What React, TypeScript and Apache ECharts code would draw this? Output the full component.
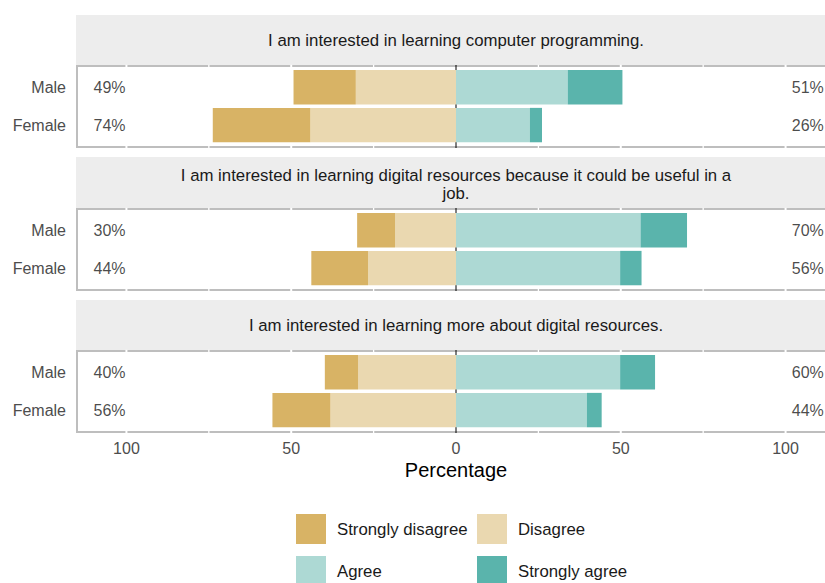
import React, { useEffect, useRef } from 'react';
import * as echarts from 'echarts';

// ---------- data ----------
const categories = ['Male', 'Female'];
const facetTitles = [
  'I am interested in learning computer programming.',
  'I am interested in learning digital resources because it could be useful in a\njob.',
  'I am interested in learning more about digital resources.',
];
const levels = ['Strongly disagree', 'Disagree', 'Agree', 'Strongly agree'];
// [facet][Male, Female]
const stronglyDisagree = [[18.9, 29.6], [11.5, 17.2], [10.1, 17.6]];
const disagree = [[30.4, 44.2], [18.5, 26.7], [29.7, 38.1]];
const agree = [[33.9, 22.4], [56.0, 49.8], [49.8, 39.7]];
const stronglyAgree = [[16.6, 3.7], [14.1, 6.5], [10.6, 4.5]];
const lowLabels = [[49, 74], [30, 44], [40, 56]];
const highLabels = [[51, 26], [70, 56], [60, 44]];
const xTicks = [-100, -50, 0, 50, 100];
const gridLineValues = [-100, -75, -50, -25, 25, 50, 75, 100];
const xAxisTitle = 'Percentage';

// ---------- style / layout ----------
const levelColors: Record<string, string> = {
  'Strongly disagree': '#D8B365',
  Disagree: '#EAD8B0',
  Agree: '#ADD9D4',
  'Strongly agree': '#5AB4AC',
};
const FONT = 'Liberation Sans, Arial, sans-serif';
const X_MIN = -115;
const X_MAX = 115;
const LEFT = 77;
const WIDTH = 758;
const panelTops = [66, 209, 351];
const PANEL_H = 81;
const stripTops = [15, 157, 300];
const titleYs = [40.5, 184, 325];
const BAR_OFF = 2.3;
const BAR_H = 75.7;
const BAR_W = 34.4;
const LOW_LABEL_X = -110;
const HIGH_LABEL_X = 111.6;

function buildOption() {
  const grid: any[] = [];
  const xAxis: any[] = [];
  const yAxis: any[] = [];
  const series: any[] = [];
  const graphic: any[] = [];

  facetTitles.forEach((title, f) => {
    const frameIdx = 2 * f;
    const barIdx = 2 * f + 1;
    const isBottom = f === facetTitles.length - 1;

    grid.push({
      left: LEFT,
      top: panelTops[f],
      width: WIDTH,
      height: PANEL_H,
      show: true,
      borderColor: '#BEBEBE',
      borderWidth: 2,
      backgroundColor: 'transparent',
      containLabel: false,
    });
    grid.push({
      left: LEFT,
      top: panelTops[f] + BAR_OFF,
      width: WIDTH,
      height: BAR_H,
      show: false,
      containLabel: false,
    });

    xAxis.push({
      gridIndex: frameIdx,
      type: 'value',
      min: X_MIN,
      max: X_MAX,
      axisLine: { show: false },
      axisTick: { show: false },
      splitLine: { show: false },
      axisLabel: {
        show: isBottom,
        customValues: xTicks,
        formatter: (v: number) => (xTicks.includes(v) ? String(Math.abs(v)) : ''),
        fontSize: 16,
        color: '#4D4D4D',
        margin: 8,
        fontFamily: FONT,
      },
      name: isBottom ? xAxisTitle : '',
      nameLocation: 'middle',
      nameGap: 28,
      nameTextStyle: { fontSize: 20, color: '#000000', fontFamily: FONT },
    });
    yAxis.push({ gridIndex: frameIdx, type: 'value', min: 0, max: 1, show: false });

    xAxis.push({ gridIndex: barIdx, type: 'value', min: X_MIN, max: X_MAX, show: false });
    yAxis.push({
      gridIndex: barIdx,
      type: 'category',
      data: categories,
      inverse: true,
      axisLine: { show: false },
      axisTick: { show: true, alignWithLabel: true, length: 3, lineStyle: { color: '#BEBEBE', width: 1.5 } },
      splitLine: { show: false },
      axisLabel: { fontSize: 16, color: '#4D4D4D', margin: 11, fontFamily: FONT },
    });

    // white grid lines cutting through the panel border
    series.push({
      type: 'custom',
      xAxisIndex: frameIdx,
      yAxisIndex: frameIdx,
      silent: true,
      z: 1,
      data: gridLineValues.map((v) => [v, 0]),
      renderItem: (_p: any, api: any) => {
        const x = api.value(0);
        const top = api.coord([x, 1]);
        const bot = api.coord([x, 0]);
        const major = x % 50 === 0;
        return {
          type: 'line',
          shape: { x1: top[0], y1: top[1] - 1.2, x2: bot[0], y2: bot[1] + 1.2 },
          style: { stroke: '#FFFFFF', lineWidth: major ? 2 : 1.3 },
        };
      },
    });
    // zero line
    series.push({
      type: 'custom',
      xAxisIndex: frameIdx,
      yAxisIndex: frameIdx,
      silent: true,
      z: 1,
      data: [[0, 0]],
      renderItem: (_p: any, api: any) => {
        const x = api.value(0);
        const top = api.coord([x, 1]);
        const bot = api.coord([x, 0]);
        return {
          type: 'line',
          shape: { x1: top[0], y1: top[1] - 1, x2: bot[0], y2: bot[1] + 1 },
          style: { stroke: '#000000', lineWidth: 1 },
        };
      },
    });

    const levelData: Record<string, number[]> = {
      Disagree: disagree[f].map((v) => -v),
      'Strongly disagree': stronglyDisagree[f].map((v) => -v),
      Agree: agree[f],
      'Strongly agree': stronglyAgree[f],
    };
    ['Disagree', 'Strongly disagree', 'Agree', 'Strongly agree'].forEach((lv) => {
      series.push({
        type: 'bar',
        name: lv,
        xAxisIndex: barIdx,
        yAxisIndex: barIdx,
        stack: 'facet' + f,
        barWidth: BAR_W,
        silent: true,
        z: 2,
        itemStyle: { color: levelColors[lv] },
        data: levelData[lv],
      });
    });

    const labelSeries = (xVal: number, arr: number[], align: string) => ({
      type: 'scatter',
      xAxisIndex: barIdx,
      yAxisIndex: barIdx,
      symbolSize: 1,
      silent: true,
      z: 3,
      itemStyle: { color: 'rgba(0,0,0,0)' },
      data: categories.map((_c, i) => [xVal, i]),
      label: {
        show: true,
        position: 'inside',
        align,
        verticalAlign: 'middle',
        formatter: (p: any) => arr[p.dataIndex] + '%',
        fontSize: 16,
        color: '#1A1A1A',
        fontFamily: FONT,
      },
    });
    series.push(labelSeries(LOW_LABEL_X, lowLabels[f], 'left'));
    series.push(labelSeries(HIGH_LABEL_X, highLabels[f], 'right'));

    graphic.push({
      type: 'rect',
      silent: true,
      z: -1,
      shape: { x: LEFT - 1, y: stripTops[f], width: WIDTH + 12, height: panelTops[f] - 1 - stripTops[f] },
      style: { fill: '#EDEDED' },
    });
    graphic.push({
      type: 'text',
      silent: true,
      x: LEFT + WIDTH / 2,
      y: titleYs[f],
      style: {
        text: title,
        fontSize: 16.8,
        fontFamily: FONT,
        fill: '#1A1A1A',
        align: 'center',
        verticalAlign: 'middle',
        lineHeight: 18,
      },
    });
  });

  const legendBase = {
    orient: 'vertical',
    top: 514,
    itemWidth: 30,
    itemHeight: 30,
    itemGap: 12,
    padding: 0,
    icon: 'rect',
    selectedMode: false,
    textStyle: { fontSize: 16.8, color: '#1A1A1A', fontFamily: FONT, padding: [0, 0, 0, 6] },
  };

  return {
    animation: false,
    textStyle: { fontFamily: FONT },
    grid,
    xAxis,
    yAxis,
    series,
    graphic,
    legend: [
      { ...legendBase, left: 296, data: [levels[0], levels[2]] },
      { ...legendBase, left: 477, data: [levels[1], levels[3]] },
    ],
  };
}

export default function App() {
  const ref = useRef<HTMLDivElement>(null);
  useEffect(() => {
    if (!ref.current) return;
    const chart = echarts.init(ref.current, undefined, { renderer: 'svg' });
    chart.setOption(buildOption() as any);
    return () => chart.dispose();
  }, []);
  // The plot runs slightly past the right and bottom edges of the window, as in the reference.
  return (
    <div
      ref={ref}
      style={{ position: 'fixed', left: 0, top: 0, width: 850, height: 610, background: '#FFFFFF' }}
    />
  );
}
